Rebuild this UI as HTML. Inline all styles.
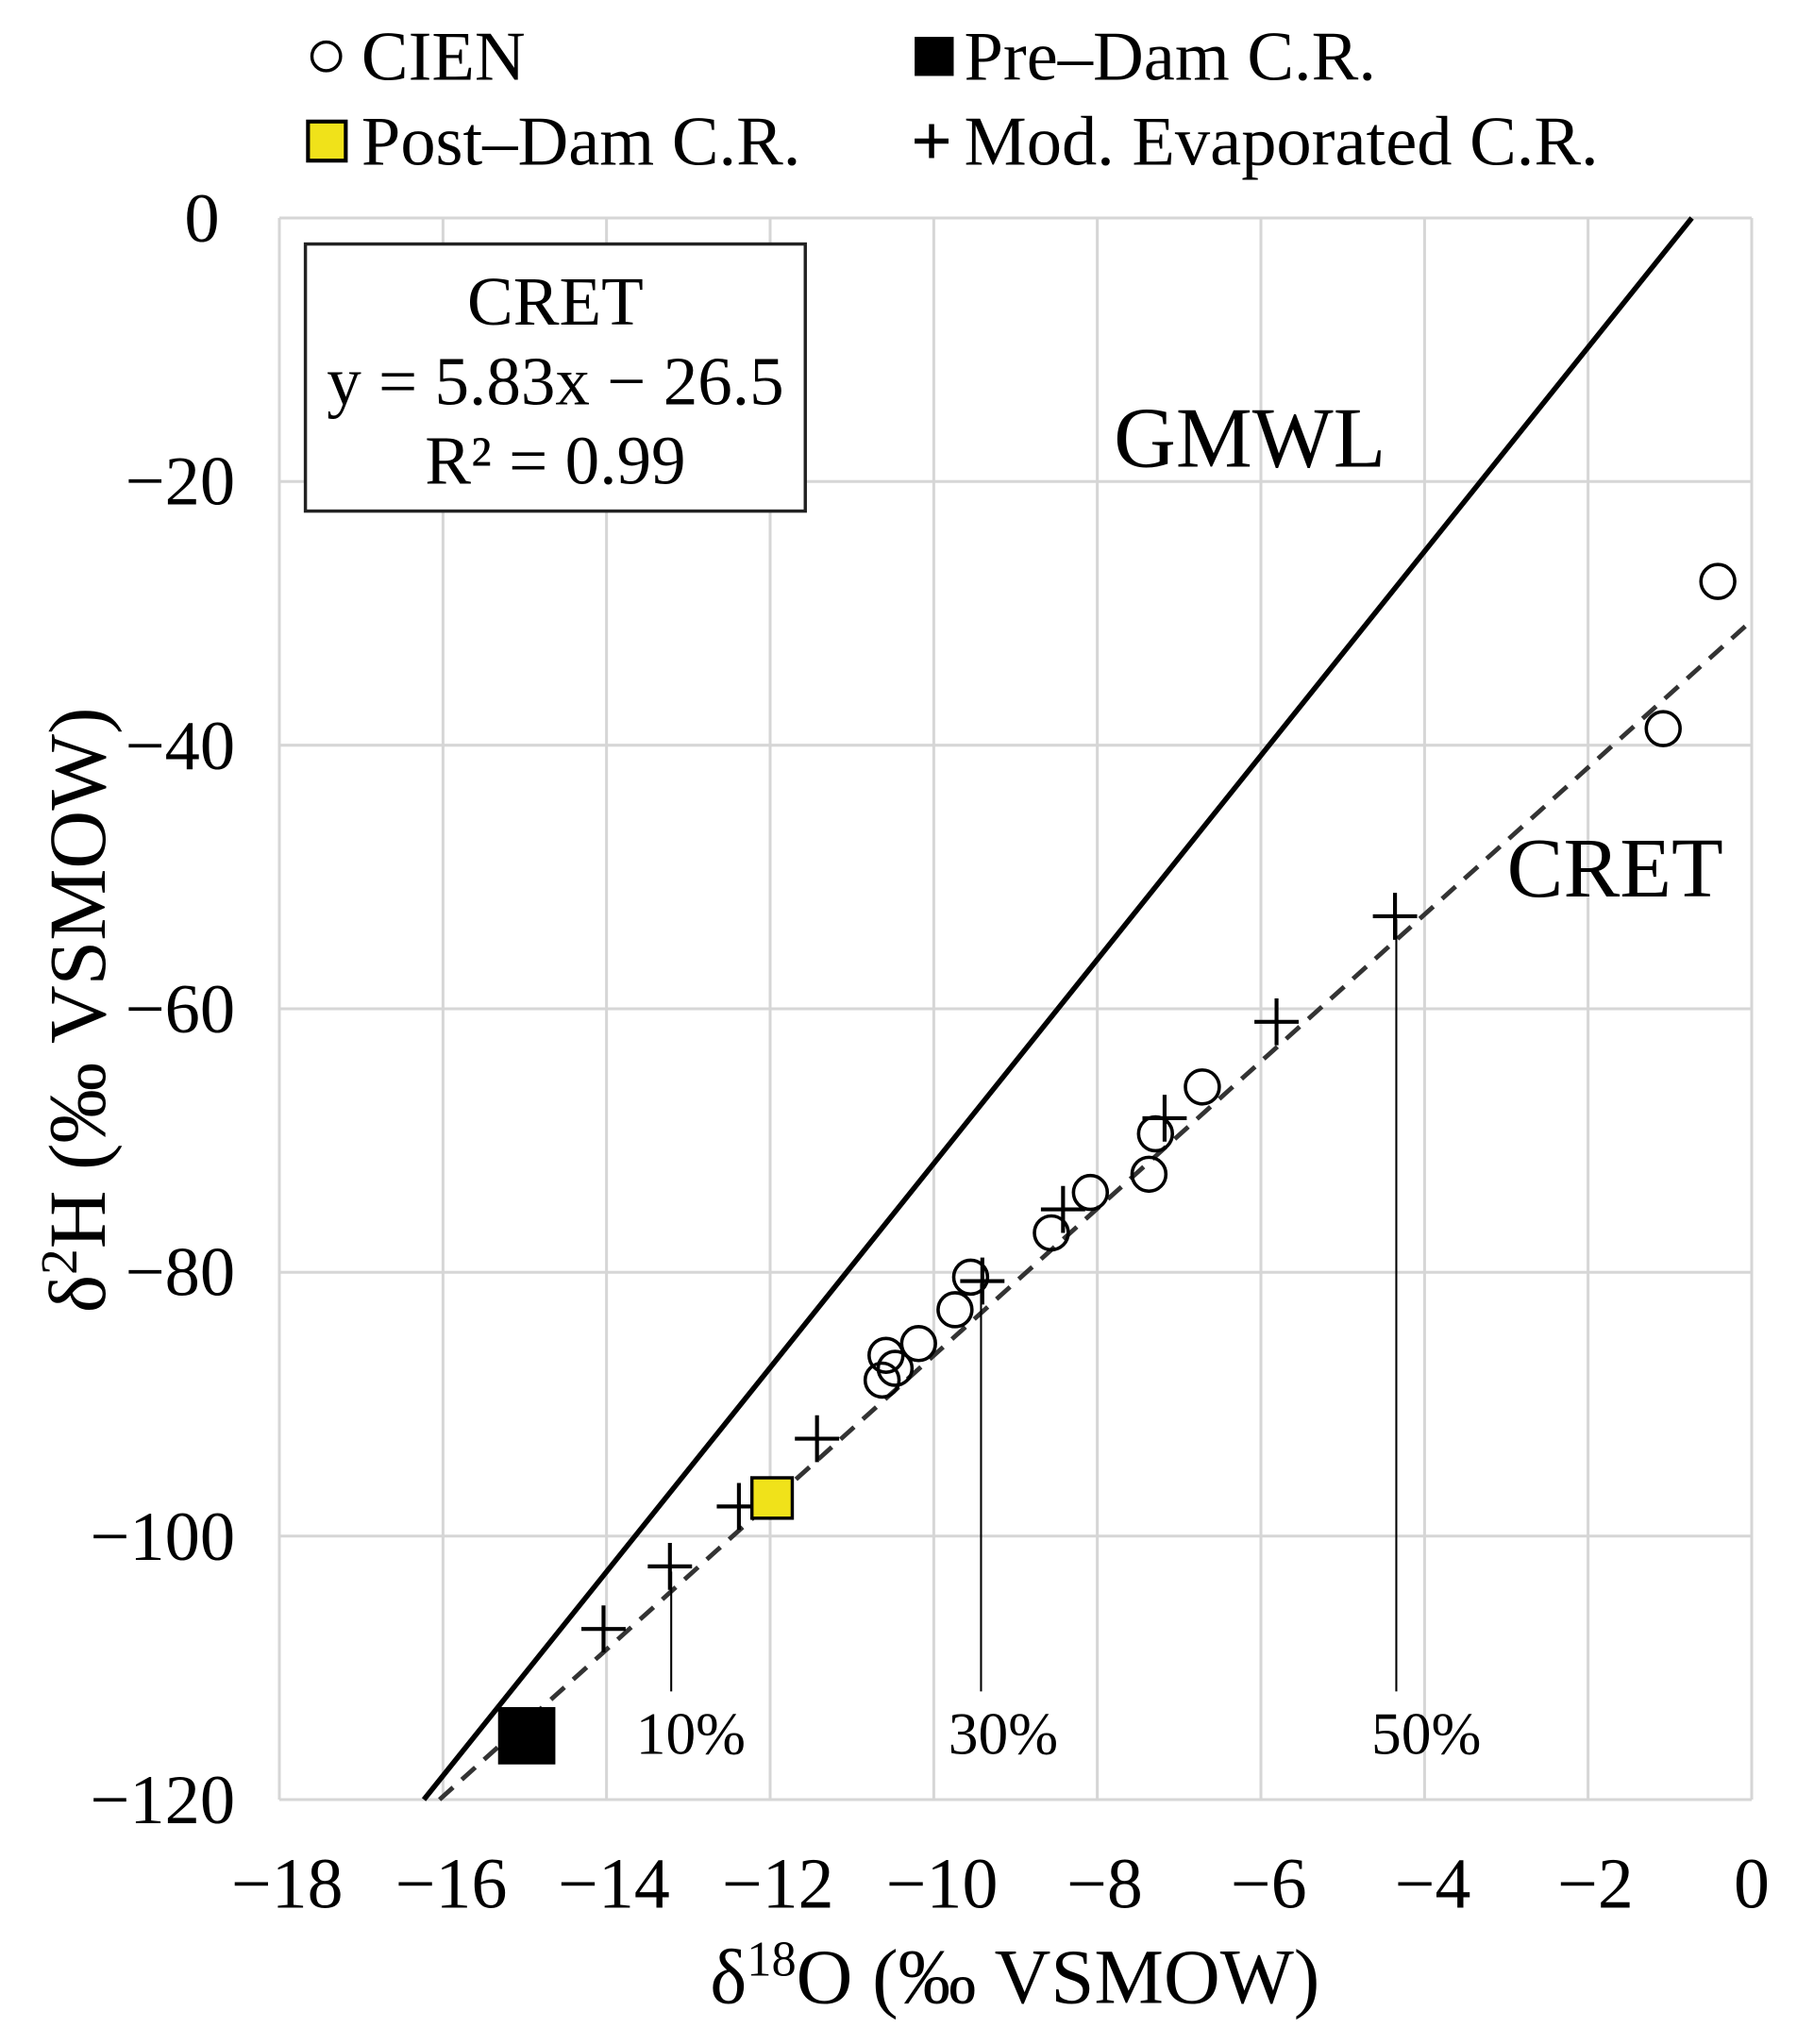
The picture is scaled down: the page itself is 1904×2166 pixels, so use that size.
<!DOCTYPE html>
<html><head><meta charset="utf-8"><style>html,body{margin:0;padding:0;background:#fff}svg{display:block}</style></head>
<body>
<svg width="1904" height="2166" viewBox="0 0 1904 2166" xmlns="http://www.w3.org/2000/svg">
<g transform="matrix(1.3793,0,0,1.3806,3.6,0.4)" font-family="Liberation Serif, serif" fill="#000">
<!-- grid -->
<g stroke="#d6d6d6" stroke-width="2.2">
<line x1="212" y1="167" x2="212" y2="1381"/><line x1="337.7" y1="167" x2="337.7" y2="1381"/><line x1="463.3" y1="167" x2="463.3" y2="1381"/><line x1="589" y1="167" x2="589" y2="1381"/><line x1="714.7" y1="167" x2="714.7" y2="1381"/><line x1="840.3" y1="167" x2="840.3" y2="1381"/><line x1="966" y1="167" x2="966" y2="1381"/><line x1="1091.7" y1="167" x2="1091.7" y2="1381"/><line x1="1217.3" y1="167" x2="1217.3" y2="1381"/><line x1="1343" y1="167" x2="1343" y2="1381"/>
<line x1="212" y1="167" x2="1343" y2="167"/><line x1="212" y1="369.3" x2="1343" y2="369.3"/><line x1="212" y1="571.7" x2="1343" y2="571.7"/><line x1="212" y1="774" x2="1343" y2="774"/><line x1="212" y1="976.3" x2="1343" y2="976.3"/><line x1="212" y1="1178.7" x2="1343" y2="1178.7"/><line x1="212" y1="1381" x2="1343" y2="1381"/>
</g>
<!-- y tick labels -->
<g font-size="54" text-anchor="end">
<text x="166" y="185">0</text><text x="178" y="387">−20</text><text x="178" y="590">−40</text><text x="178" y="792">−60</text><text x="178" y="994">−80</text><text x="178" y="1197">−100</text><text x="178" y="1399">−120</text>
</g>
<g font-size="55" text-anchor="middle">
<text x="218" y="1464">−18</text><text x="344" y="1464">−16</text><text x="469" y="1464">−14</text><text x="595" y="1464">−12</text><text x="721" y="1464">−10</text><text x="846" y="1464">−8</text><text x="972" y="1464">−6</text><text x="1098" y="1464">−4</text><text x="1223" y="1464">−2</text><text x="1343" y="1464">0</text>
</g>
<text x="777" y="1537" font-size="60" text-anchor="middle">δ<tspan font-size="38" dy="-21">18</tspan><tspan dy="21">O (‰ VSMOW)</tspan></text>
<text transform="translate(78,775) rotate(-90)" font-size="62" text-anchor="middle">δ<tspan font-size="40" dy="-22">2</tspan><tspan dy="22">H (‰ VSMOW)</tspan></text>
<!-- lines -->
<line x1="323" y1="1381" x2="1297" y2="167" stroke="#000" stroke-width="4"/>
<line x1="335" y1="1381" x2="1343" y2="476" stroke="#333" stroke-width="3.5" stroke-dasharray="14,9"/>
<g stroke="#000" stroke-width="1.5">
<line x1="513" y1="1206" x2="513" y2="1298"/><line x1="751" y1="985" x2="751" y2="1298"/><line x1="1070" y1="705" x2="1070" y2="1298"/>
</g>
<g font-size="46" text-anchor="middle"><text x="528" y="1346">10%</text><text x="768" y="1346">30%</text><text x="1093" y="1346">50%</text></g>
<text x="853" y="358" font-size="66">GMWL</text>
<text x="1155" y="688" font-size="65">CRET</text>
<!-- box -->
<rect x="232" y="187" width="384" height="205" fill="#fff" stroke="#222" stroke-width="2.5"/>
<g font-size="53" text-anchor="middle"><text x="424" y="249">CRET</text><text x="424" y="310">y = 5.83x − 26.5</text><text x="424" y="371">R² = 0.99</text></g>
<!-- circles -->
<g fill="none" stroke="#000" stroke-width="2.6">
<circle cx="1317" cy="446" r="13"/><circle cx="1275" cy="559" r="13"/><circle cx="921" cy="834" r="13"/><circle cx="885" cy="870" r="13"/><circle cx="880" cy="901" r="13"/><circle cx="835" cy="915" r="13"/><circle cx="805" cy="946" r="13"/><circle cx="743" cy="980" r="13"/><circle cx="731" cy="1005" r="13"/><circle cx="703" cy="1031" r="13"/><circle cx="678" cy="1040" r="13"/><circle cx="685" cy="1050" r="13"/><circle cx="675" cy="1059" r="13"/>
</g>
<!-- plus -->
<g stroke="#000" stroke-width="3">
<path d="M1052 703h34M1069 685v36M961 784h34M978 766v36M875 858h34M892 840v36M797 928h34M814 910v36M735 983h34M752 965v36M608 1104h34M625 1086v36M548 1156h34M565 1138v36M495 1202h34M512 1184v36M444 1250h34M461 1232v36"/>
</g>
<rect x="575" y="1134" width="31" height="31" fill="#f0e21a" stroke="#000" stroke-width="2.5"/>
<rect x="380" y="1310" width="44" height="44" fill="#000"/>
<!-- legend -->
<circle cx="248" cy="43" r="11" fill="none" stroke="#000" stroke-width="2.5"/>
<text x="275" y="61" font-size="54">CIEN</text>
<rect x="700" y="28" width="30" height="30" fill="#000"/>
<text x="738" y="61" font-size="54">Pre–Dam C.R.</text>
<rect x="234" y="93" width="29" height="30" fill="#f0e21a" stroke="#000" stroke-width="3"/>
<text x="275" y="126" font-size="54">Post–Dam C.R.</text>
<path d="M700 108h26M713 95v26" stroke="#000" stroke-width="4"/>
<text x="738" y="126" font-size="54">Mod. Evaporated C.R.</text>
</g>
</svg>
</body></html>
